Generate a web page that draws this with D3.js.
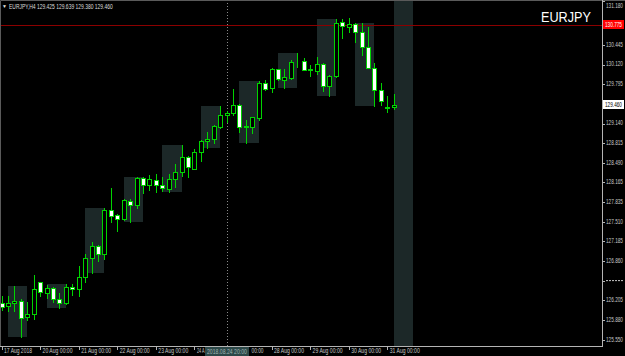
<!DOCTYPE html>
<html>
<head>
<meta charset="utf-8">
<script src="https://cdn.jsdelivr.net/npm/d3@7/dist/d3.min.js"></script>
<style>
html, body { margin: 0; padding: 0; background: #000; }
svg { display: block; }
text { font-family: "Liberation Sans", Arial, sans-serif; }
</style>
</head>
<body>
<svg id="chart" width="625" height="356"></svg>
<script>
// EURJPY H4, 17 Aug 2018 00:00 .. 31 Aug 2018 04:00
const opens  = [126.168,126.109,126.158,126.202,125.926,125.976, 126.507,126.334,126.408,126.235,126.168,126.429,
                126.401,126.595,126.906,127.110,126.982,127.703, 127.620,127.564,127.863,127.791,128.245,128.129,
                128.207,128.119,128.062,128.223,128.345,128.594, 128.394,128.667,128.849,128.883,129.092,129.291,
                129.315,129.452,129.087,129.092,129.242,129.818, 129.735,130.045,129.873,129.906,130.183,130.188,
                130.050,130.022,130.129,129.768,129.929,130.826, 130.743,130.798,130.665,130.421,130.072,129.702,
                129.410,129.425];
const highs  = [126.280,126.280,126.451,126.230,126.175,126.628, 126.517,126.467,126.429,126.324,126.474,126.479,
                126.778,126.972,127.182,127.122,127.737,128.069, 127.642,127.896,127.896,128.261,128.261,128.295,
                128.301,128.261,128.301,128.467,128.783,128.610, 128.722,128.871,129.004,129.112,129.441,129.353,
                129.713,129.464,129.203,129.258,129.856,129.868, 130.062,130.055,130.050,130.200,130.311,130.228,
                130.117,130.245,130.145,129.951,130.876,130.876, 130.903,130.810,130.820,130.743,130.155,129.813,
                129.602,129.639];
const lows   = [126.047,126.036,126.036,125.594,125.881,125.898, 126.280,126.246,126.180,126.085,126.147,126.291,
                126.280,126.517,126.667,126.866,126.894,127.514, 127.364,127.534,127.514,127.737,127.986,128.041,
                128.002,128.016,128.007,128.095,128.278,128.261, 128.384,128.527,128.733,128.826,129.075,129.165,
                129.286,128.999,128.816,128.992,129.203,129.702, 129.673,129.868,129.740,129.879,130.089,130.034,
                129.934,129.967,129.685,129.607,129.918,130.560, 130.670,130.504,130.288,130.067,129.441,129.452,
                129.341,129.380];
const closes = [126.102,126.158,126.202,125.919,125.981,126.401, 126.341,126.408,126.230,126.168,126.429,126.396,
                126.595,126.906,127.105,126.982,127.703,127.614, 127.564,127.869,127.791,128.245,128.124,128.218,
                128.124,128.069,128.223,128.345,128.594,128.418, 128.667,128.849,128.883,129.104,129.291,129.325,
                129.457,129.092,129.104,129.248,129.813,129.723, 130.050,129.879,129.913,130.172,130.188,130.039,
                130.029,130.129,129.768,129.929,130.820,130.765, 130.793,130.660,130.421,130.067,129.697,129.519,
                129.425,129.460];

const dayLabels = ["17 Aug 2018","20 Aug 00:00","21 Aug 00:00","22 Aug 00:00","23 Aug 00:00","24 Aug 00:00",
                   "27 Aug 00:00","28 Aug 00:00","29 Aug 00:00","30 Aug 00:00","31 Aug 00:00"];
const priceTicks = [131.180,130.770,130.445,130.120,129.795,129.470,129.140,128.815,128.490,128.165,
                    127.835,127.510,127.185,126.860,126.535,126.205,125.880,125.550];
const header = "EURJPY,H4  129.425 129.639 129.380 129.460";
const symbol = "EURJPY";
const redLinePrice = 130.775;
const bidPrice = 129.460;
const vLineBar = 35, vLineLabel = "2018.08.24 20:00";
const barsPerDay = 6;

const svg = d3.select("#chart");
const W = 625, H = 356, plotR = 602, plotB = 346;
const BULL = "#00d400", AXIS = "#b4b4b4", LBL = "#c8c8c8";

const x = d3.scaleLinear().domain([0, 61]).range([1.5, 393.7]);
const y = d3.scaleLinear().domain([125.449, 131.18]).range([plotB, 1]);
const px = i => Math.round(x(i)) + 0.5;

// squeeze a text horizontally to a given width (the terminal font is narrow)
function squeeze(sel, width) {
    sel.each(function (d, i) {
        const t = d3.select(this), w = this.getComputedTextLength();
        const tx = +t.attr("x") || 0, ty = +t.attr("y") || 0;
        const target = typeof width === "function" ? width(d, i) : width;
        t.attr("x", 0).attr("y", 0).attr("transform", `translate(${tx},${ty}) scale(${(target / w).toFixed(3)},1)`);
    });
}

svg.append("rect").attr("width", W).attr("height", H).attr("fill", "#000");

// session boxes: drawn from bar 1 to bar 4 of each day, range of bars 2..4
const gBox = svg.append("g").attr("shape-rendering", "crispEdges");
dayLabels.forEach((lab, d) => {
    const i0 = d * barsPerDay;
    const idx = d3.range(i0 + 2, i0 + 5).filter(i => i < opens.length);
    const x0 = Math.round(x(i0 + 1)), x1 = Math.round(x(i0 + 4));
    let y0 = 0, y1 = plotB;
    if (idx.length === 3) {
        y0 = Math.round(y(d3.max(idx, i => highs[i])));
        y1 = Math.round(y(d3.min(idx, i => lows[i])));
    }
    gBox.append("rect").attr("x", x0).attr("y", y0).attr("width", x1 - x0).attr("height", y1 - y0)
        .attr("fill", "#1c2828");
});

// vertical line object
svg.append("line").attr("x1", px(vLineBar)).attr("x2", px(vLineBar)).attr("y1", 0).attr("y2", plotB)
    .attr("stroke", "#8a8a8a").attr("stroke-dasharray", "1,2");

// horizontal line object
svg.append("line").attr("x1", 0).attr("x2", plotR).attr("y1", Math.round(y(redLinePrice)) + 0.5)
    .attr("y2", Math.round(y(redLinePrice)) + 0.5).attr("stroke", "#8b0000").attr("shape-rendering", "crispEdges");

// candles
const gC = svg.append("g").attr("shape-rendering", "crispEdges");
opens.forEach((o, i) => {
    const c = closes[i], cx = px(i);
    gC.append("line").attr("x1", cx).attr("x2", cx)
        .attr("y1", Math.round(y(highs[i]))).attr("y2", Math.round(y(lows[i])) + 1).attr("stroke", BULL);
    const top = Math.round(y(Math.max(o, c))), bot = Math.round(y(Math.min(o, c)));
    gC.append("rect").attr("x", cx - 2).attr("y", top + 0.5).attr("width", 4).attr("height", Math.max(bot - top, 0))
        .attr("fill", c >= o ? "#000" : "#fff").attr("stroke", BULL);
});

// frame
svg.append("path").attr("d", `M0.5,${plotB + 0.5}V0.5H${W}`).attr("fill", "none").attr("stroke", "#5a5a5a");
svg.append("path").attr("d", `M0,${plotB + 0.5}H${plotR + 0.5}V0`).attr("fill", "none").attr("stroke", AXIS)
    .attr("shape-rendering", "crispEdges");

// price axis
const yAx = svg.append("g").attr("transform", `translate(${plotR},0)`)
    .call(d3.axisRight(y).tickValues(priceTicks).tickFormat(d3.format(".3f")).tickSize(3).tickPadding(1));
yAx.select(".domain").remove();
yAx.selectAll("line").attr("stroke", AXIS).attr("shape-rendering", "crispEdges");
yAx.selectAll(".tick").filter(d => d === 126.535).select("text").remove();
yAx.selectAll(".tick").filter(d => d === 126.535).append("line")
    .attr("x1", 4).attr("x2", 21).attr("y1", -0.5).attr("y2", -0.5).attr("stroke", LBL).attr("stroke-dasharray", "2,1");
yAx.selectAll("text").attr("fill", LBL).attr("font-size", 7).attr("font-family", "Liberation Sans, Arial, sans-serif")
    .attr("x", 4).attr("dy", "0.3em").attr("y", d => d > 131 ? 4 : -1)
    .call(squeeze, 17);

// price labels for line object and bid
function priceTag(p, bg, fg) {
    const yy = Math.round(y(p));
    const g = svg.append("g");
    g.append("rect").attr("x", plotR + 1).attr("y", yy - 5).attr("width", 21).attr("height", 9).attr("fill", bg);
    g.append("text").attr("x", plotR + 3).attr("y", yy + 2).attr("font-size", 7).attr("fill", fg)
        .text(d3.format(".3f")(p)).call(squeeze, 17);
}
priceTag(redLinePrice, "#ff0000", "#fff");
priceTag(bidPrice, "#fff", "#000");

// time axis
const xAx = svg.append("g").attr("transform", `translate(0,${plotB})`)
    .call(d3.axisBottom(x).tickValues(dayLabels.map((d, i) => i * barsPerDay))
        .tickFormat(v => dayLabels[v / barsPerDay]).tickSize(4).tickPadding(1));
xAx.select(".domain").remove();
xAx.selectAll("line").attr("stroke", AXIS).attr("shape-rendering", "crispEdges");
xAx.selectAll("text").attr("fill", LBL).attr("font-size", 7).attr("text-anchor", "start")
    .attr("x", 2).attr("y", 2).attr("dy", "0.71em").attr("font-family", "Liberation Sans, Arial, sans-serif");

// time tag of vertical line, covering the middle of the neighbouring labels
const vx = x(vLineBar), tagL = Math.round(vx - 22), tagR = tagL + 44;
const widths = {};
xAx.selectAll(".tick").each(function (v) {
    const t = d3.select(this).select("text"), lab = dayLabels[v / barsPerDay], tx = x(v) + 2;
    widths[v] = v === 0 ? 28 : 30;
    if (tx < tagL && tx + 30 > tagL) {
        t.text(lab.slice(0, 4)); widths[v] = tagL - tx - 1;
    } else if (tx > tagL && tx < tagR) {
        t.text(lab.slice(-5)).attr("x", tagR - x(v) + 2); widths[v] = 12;
    }
});
xAx.selectAll("text").call(squeeze, v => widths[v]);
svg.append("rect").attr("x", tagL).attr("y", plotB + 1).attr("width", tagR - tagL).attr("height", 9)
    .attr("fill", "#2c4848");
svg.append("text").attr("x", tagL + 2).attr("y", plotB + 8).attr("font-size", 7).attr("fill", "#9fb4b4")
    .text(vLineLabel).call(squeeze, 40);

// header and symbol
svg.append("text").attr("x", 2).attr("y", 8).attr("font-size", 5).attr("fill", "#e0e0e0").text("▼");
svg.append("text").attr("x", 9).attr("y", 8.5).attr("font-size", 6.5).attr("fill", "#dcdcdc")
    .text(header).call(squeeze, 104);
svg.append("text").attr("x", 541).attr("y", 21.5).attr("font-size", 15).attr("fill", "#fff")
    .text(symbol).call(squeeze, 50);
</script>
</body>
</html>
